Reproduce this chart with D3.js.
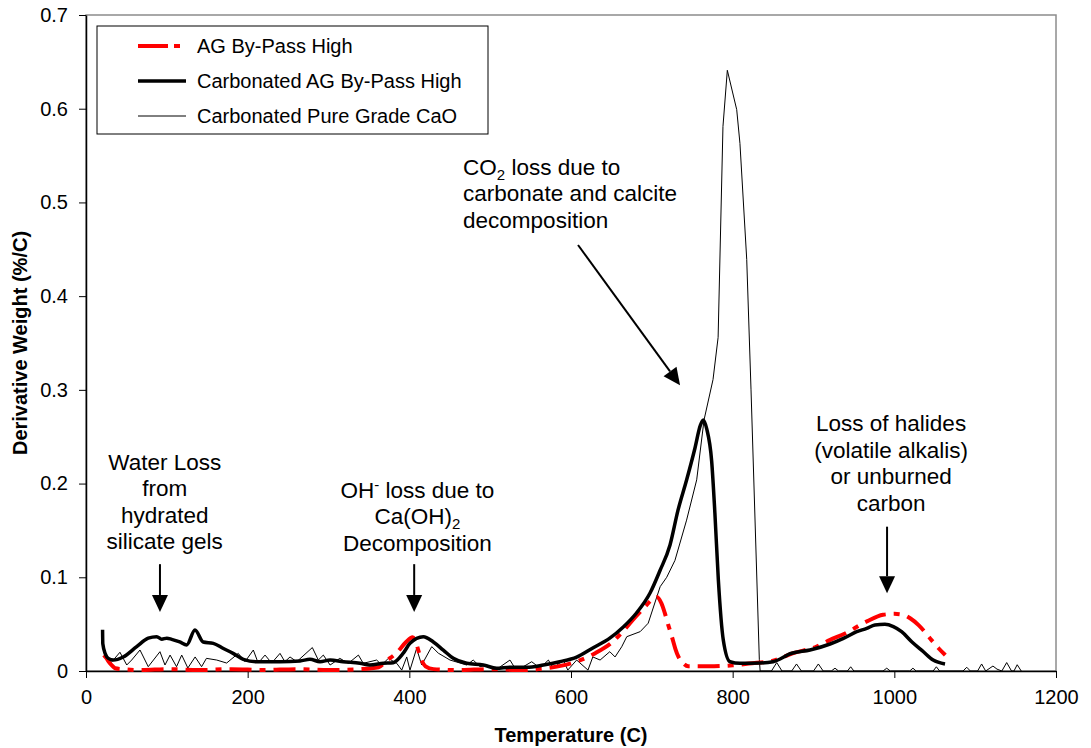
<!DOCTYPE html>
<html>
<head>
<meta charset="utf-8">
<script src="https://cdn.jsdelivr.net/npm/d3@7"></script>
<style>
  body { margin: 0; background: #fff; }
  svg { font-family: Arial, "Liberation Sans", sans-serif; }
  .axis path, .axis line { stroke: #000; }
  .axis text { font-size: 20px; fill: #000; }
</style>
</head>
<body>
<svg class="chart" width="1091" height="748"></svg>
<script>
// AG By-Pass High (red dashed) - [temperature C, derivative weight %/C]
var agBypass = [
  [22, 0.017], [25, 0.014], [28, 0.010], [32, 0.006], [36, 0.003], [45, 0.002], [70, 0.001],
  [100, 0.002], [140, 0.001], [180, 0.002], [220, 0.001], [260, 0.002], [300, 0.001],
  [340, 0.002], [362, 0.004], [372, 0.011], [385, 0.020], [396, 0.031], [404, 0.036],
  [409, 0.028], [414, 0.014], [420, 0.005], [430, 0.002], [460, 0.001], [500, 0.002],
  [540, 0.001], [570, 0.003], [590, 0.006], [610, 0.011], [630, 0.019], [650, 0.030],
  [665, 0.043], [680, 0.058], [692, 0.069], [700, 0.076], [706, 0.079], [712, 0.072],
  [716, 0.062], [720, 0.050], [725, 0.036], [729, 0.024], [733, 0.015], [738, 0.009],
  [745, 0.005], [770, 0.005], [800, 0.006], [820, 0.008], [850, 0.011], [875, 0.019],
  [904, 0.026], [920, 0.033], [939, 0.040], [966, 0.053], [986, 0.060], [1000, 0.061],
  [1011, 0.060], [1020, 0.056], [1030, 0.049], [1046, 0.033], [1055, 0.024], [1063, 0.017]
];

// Carbonated AG By-Pass High (thick black)
var carbBypass = [
  [20.5, 0.044], [20.8, 0.029], [24, 0.018], [27.6, 0.0135], [33.8, 0.0117], [46, 0.015],
  [62.7, 0.026], [77, 0.035], [87.5, 0.0366], [93.7, 0.034], [100, 0.035], [106, 0.0338],
  [116, 0.031], [124.6, 0.0278], [134.8, 0.0438], [145, 0.031], [157.5, 0.0295],
  [170, 0.024], [182, 0.0188], [194.6, 0.0125], [211, 0.0099], [240, 0.0099],
  [264.8, 0.0107], [277, 0.0125], [289.5, 0.0099], [302, 0.0117], [318, 0.0099],
  [339, 0.0082], [351, 0.0064], [367.8, 0.0082], [380, 0.0089], [392.5, 0.019],
  [400.8, 0.0295], [417.3, 0.0366], [429.7, 0.031], [442, 0.0223], [454.4, 0.0135],
  [471, 0.0082], [491.5, 0.0064], [508, 0.0029], [524.5, 0.004], [545, 0.004],
  [565.8, 0.0064], [586, 0.0099], [607, 0.0149], [627, 0.0246], [648, 0.035],
  [664.7, 0.047], [681, 0.0619], [697.8, 0.0832], [710, 0.107], [722.5, 0.1345],
  [732.4, 0.1717], [743, 0.2038], [753.4, 0.238], [760, 0.262], [763.7, 0.2678],
  [768, 0.258], [774, 0.2241], [778, 0.1686], [782.3, 0.0971], [788.4, 0.0331],
  [796.7, 0.0099], [809, 0.0082], [833.8, 0.0085], [850, 0.0099], [873, 0.0189],
  [895.7, 0.0224], [920.5, 0.0288], [937, 0.0348], [953.5, 0.0419], [965.9, 0.0455],
  [976, 0.0491], [988.4, 0.0498], [998.8, 0.0473], [1009, 0.0419], [1021.5, 0.0312],
  [1036, 0.0205], [1048, 0.0117], [1062.7, 0.0075]
];

// Carbonated Pure Grade CaO (thin black)
var carbCaO = [
  [30, 0.008], [33.8, 0.0117], [42, 0.020], [50.4, 0.0064], [56.5, 0.0117], [66.8, 0.0224],
  [77, 0.0046], [91.5, 0.0206], [97.7, 0.0064], [104, 0.017], [112, 0.0046], [118.4, 0.017],
  [126, 0.0032], [135, 0.015], [143, 0.0046], [149, 0.0135], [161.7, 0.0117], [174, 0.0085],
  [188.4, 0.0188], [196.7, 0.0099], [207, 0.0224], [213, 0.0085], [221.5, 0.017],
  [229.7, 0.0085], [240, 0.0188], [246, 0.0099], [252.4, 0.015], [260.7, 0.0099],
  [280, 0.025], [287.4, 0.0117], [293.6, 0.017], [302, 0.0064], [314, 0.0135],
  [324.5, 0.0082], [337, 0.017], [343, 0.0082], [359.6, 0.0117], [365.8, 0.0064],
  [374, 0.0135], [384.4, 0.0082], [390.6, 0.001], [396.8, 0.015], [400.8, 0.001],
  [409, 0.024], [415.3, 0.0064], [427.7, 0.026], [435.9, 0.019], [450.3, 0.0117],
  [471, 0.0064], [479, 0.0117], [487.5, 0.0046], [495.7, 0.0064], [508, 0.0018],
  [524.5, 0.0117], [530.7, 0.003], [541, 0.0046], [551.4, 0.0099], [561.7, 0.003],
  [572, 0.0117], [578, 0.003], [590.5, 0.0117], [596, 0.001], [607, 0.0117], [621, 0.001],
  [627, 0.015], [636, 0.0117], [648, 0.0206], [654.5, 0.015], [662.7, 0.0258],
  [669, 0.0366], [685.6, 0.042], [695.5, 0.051], [710.3, 0.090], [718.4, 0.100],
  [728.6, 0.118], [743, 0.161], [755.5, 0.204], [764.6, 0.268], [775.7, 0.311],
  [782, 0.356], [788, 0.581], [793.4, 0.641], [805, 0.599], [809, 0.563], [817.4, 0.439],
  [822.7, 0.300], [833, 0.012], [834, 0], [848, 0], [854.5, 0.009], [861, 0], [873, 0],
  [879, 0.0075], [885, 0], [900, 0], [906, 0.0075], [912, 0], [922, 0], [926.6, 0.003],
  [931, 0], [942, 0], [946, 0.0045], [950, 0], [986, 0], [990.6, 0.003], [995, 0],
  [1019, 0], [1023, 0.003], [1027, 0], [1048, 0], [1052, 0.0045], [1056, 0], [1085, 0],
  [1089.6, 0.004], [1094, 0], [1103, 0], [1108, 0.0075], [1113, 0], [1122, 0.0053],
  [1127, 0.002], [1133, 0], [1139, 0.009], [1145, 0], [1148, 0], [1152, 0.0067], [1157, 0]
];

var xTicks = [0, 200, 400, 600, 800, 1000, 1200];
var yTicks = [0, 0.1, 0.2, 0.3, 0.4, 0.5, 0.6, 0.7];
var seriesNames = ["AG By-Pass High", "Carbonated AG By-Pass High", "Carbonated Pure Grade CaO"];

var margin = {top: 15, right: 35, bottom: 77, left: 86},
    width = 1091 - margin.left - margin.right,
    height = 748 - margin.top - margin.bottom;

var x = d3.scaleLinear().domain([0, 1200]).range([0, width]);
var y = d3.scaleLinear().domain([0, 0.7]).range([height, 0]);

var svg = d3.select(".chart");
var g = svg.append("g").attr("transform", "translate(" + margin.left + "," + margin.top + ")");

// plot frame (grey top/right like the excel chart)
g.append("rect")
  .attr("x", 0).attr("y", 0).attr("width", width).attr("height", height)
  .attr("fill", "none").attr("stroke", "#8c8c8c").attr("stroke-width", 1.5);

g.append("g")
  .attr("class", "axis")
  .attr("transform", "translate(0," + height + ")")
  .call(d3.axisBottom(x).tickValues(xTicks).tickSize(7).tickSizeOuter(0).tickPadding(12)
    .tickFormat(d3.format("d")));

g.append("g")
  .attr("class", "axis")
  .call(d3.axisLeft(y).tickValues(yTicks).tickSize(7).tickSizeOuter(0).tickPadding(11)
    .tickFormat(function(d) { return d === 0 ? "0" : d3.format(".1f")(d); }));

g.selectAll(".axis .domain").attr("stroke-width", 1.5);

// axis titles
svg.append("text")
  .attr("x", margin.left + width / 2)
  .attr("y", 742)
  .attr("text-anchor", "middle")
  .style("font-size", "20px").style("font-weight", "bold")
  .text("Temperature (C)");

svg.append("text")
  .attr("transform", "translate(27," + (margin.top + height / 2) + ") rotate(-90)")
  .attr("text-anchor", "middle")
  .style("font-size", "20px").style("font-weight", "bold")
  .text("Derivative Weight (%/C)");

var line = d3.line()
  .x(function(d) { return x(d[0]); })
  .y(function(d) { return y(d[1]); });

g.append("path").datum(carbCaO)
  .attr("fill", "none").attr("stroke", "#000").attr("stroke-width", 1)
  .attr("d", line);

g.append("path").datum(agBypass)
  .attr("fill", "none").attr("stroke", "#f00").attr("stroke-width", 4)
  .attr("stroke-dasharray", "22,8,6,8")
  .attr("d", line.curve(d3.curveMonotoneX));

g.append("path").datum(carbBypass)
  .attr("fill", "none").attr("stroke", "#000").attr("stroke-width", 3.5)
  .attr("stroke-linejoin", "round")
  .attr("d", line.curve(d3.curveMonotoneX));

// legend
var lg = svg.append("g").attr("transform", "translate(97,26)");
lg.append("rect").attr("width", 391).attr("height", 108)
  .attr("fill", "#fff").attr("stroke", "#000").attr("stroke-width", 1);
var legStyles = [
  {stroke: "#f00", w: 4, dash: "30,6,6,20"},
  {stroke: "#000", w: 3.5, dash: null},
  {stroke: "#000", w: 1, dash: null}
];
seriesNames.forEach(function(name, i) {
  var yy = 20 + i * 35;
  lg.append("line").attr("x1", 41).attr("x2", 89).attr("y1", yy).attr("y2", yy)
    .attr("stroke", legStyles[i].stroke).attr("stroke-width", legStyles[i].w)
    .attr("stroke-dasharray", legStyles[i].dash);
  lg.append("text").attr("x", 100).attr("y", yy + 7)
    .style("font-size", "20px").text(name);
});

// annotations, anchored in data space
function arrow(x0, y0, x1, y1) {
  var px0 = x(x0), py0 = y(y0), px1 = x(x1), py1 = y(y1);
  var ang = Math.atan2(py1 - py0, px1 - px0);
  var len = 17, half = 8;
  var bx = px1 - len * Math.cos(ang), by = py1 - len * Math.sin(ang);
  g.append("line").attr("x1", px0).attr("y1", py0).attr("x2", bx).attr("y2", by)
    .attr("stroke", "#000").attr("stroke-width", 2);
  g.append("path")
    .attr("d", "M" + px1 + "," + py1 +
      "L" + (bx + half * Math.sin(ang)) + "," + (by - half * Math.cos(ang)) +
      "L" + (bx - half * Math.sin(ang)) + "," + (by + half * Math.cos(ang)) + "Z")
    .attr("fill", "#000");
}

function label(tx, ty, anchor, lines) {
  var t = g.append("text")
    .attr("text-anchor", anchor)
    .style("font-size", "22.5px");
  lines.forEach(function(parts, i) {
    var tl = t.append("tspan").attr("x", x(tx)).attr("y", y(ty) - margin.top + 15 + i * 26.5);
    var shift = 0;
    parts.forEach(function(p) {
      if (typeof p === "string") {
        var s = tl.append("tspan").text(p);
        if (shift) { s.attr("dy", -shift); shift = 0; }
      } else {
        shift = p.sub ? 5 : -8;
        tl.append("tspan").text(p.t)
          .style("font-size", "15px")
          .attr("dy", shift);
      }
    });
  });
}

label(97.4, 0.2145, "middle", [["Water Loss"], ["from"], ["hydrated"], ["silicate gels"]]);
arrow(91.5, 0.114, 91.5, 0.063);

label(410, 0.185, "middle", [["OH", {t: "-", sup: true}, " loss due to"], ["Ca(OH)", {t: "2", sub: true}], ["Decomposition"]]);
arrow(406, 0.114, 406, 0.063);

label(466.5, 0.5295, "start", [["CO", {t: "2", sub: true}, " loss due to"], ["carbonate and calcite"], ["decomposition"]]);
arrow(608.7, 0.4546, 734.9, 0.305);

label(996, 0.2556, "middle", [["Loss of halides"], ["(volatile alkalis)"], ["or unburned"], ["carbon"]]);
arrow(991, 0.154, 991, 0.083);
</script>
</body>
</html>
